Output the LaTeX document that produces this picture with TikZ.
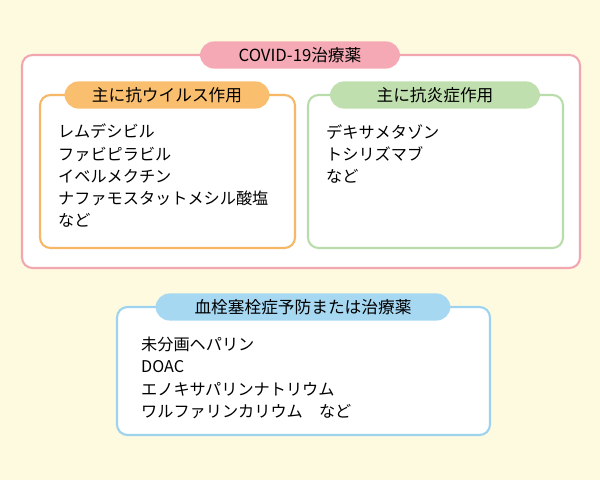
\documentclass[tikz,border=0pt]{standalone}
\usepackage{fontspec}
\setmainfont{Noto Sans CJK JP}
\usetikzlibrary{positioning}
\definecolor{bgyellow}{HTML}{FEFAE0}
\definecolor{pinkline}{HTML}{F2A7B0}
\definecolor{pinkfill}{HTML}{F5A9B4}
\definecolor{orangeline}{HTML}{F6B766}
\definecolor{orangefill}{HTML}{F9BE6E}
\definecolor{greenline}{HTML}{B9DDAA}
\definecolor{greenfill}{HTML}{BFE0AE}
\definecolor{blueline}{HTML}{9DD3EE}
\definecolor{bluefill}{HTML}{A6D8F2}
\tikzset{
  frame/.style={draw=#1, line width=1.2pt, fill=white, rounded corners=6pt},
  pill/.style={fill=#1, rounded corners=8pt, minimum height=0.5cm, font=\fontsize{9.5}{11}\selectfont},
  body/.style={anchor=north west, align=left, font=\fontsize{9.2}{12.6}\selectfont}
}
\begin{document}
\begin{tikzpicture}[x=0.02cm, y=-0.02cm]
        % Background
        \fill[bgyellow] (0,0) rectangle (600,480);
        \useasboundingbox (0,0) rectangle (600,480);

        % Outer COVID box
        \draw[frame=pinkline] (22,55) rectangle (580,268);
        \node[pill=pinkfill, minimum width=4cm] (covid) at (300,55) {COVID-19治療薬};

        % Antiviral box
        \draw[frame=orangeline] (40,95) rectangle (295,248);
        \node[pill=orangefill, minimum width=4.1cm] (antiviral) at (167,95) {主に抗ウイルス作用};
        \node[body] (antiviraltext) at (52,118) {レムデシビル\\ファビピラビル\\イベルメクチン\\ナファモスタットメシル酸塩\\など};

        % Anti-inflammatory box
        \draw[frame=greenline] (308,95) rectangle (563,248);
        \node[pill=greenfill, minimum width=4.2cm] (antiinfl) at (435,95) {主に抗炎症作用};
        \node[body] (antiinfltext) at (320,118) {デキサメタゾン\\トシリズマブ\\など};

        % Thrombosis box
        \draw[frame=blueline] (117,307) rectangle (490,435);
        \node[pill=bluefill, minimum width=5.9cm] (thrombo) at (303,307) {血栓塞栓症予防または治療薬};
        \node[body] (thrombotext) at (135,331) {未分画ヘパリン\\DOAC\\エノキサパリンナトリウム\\ワルファリンカリウム\quad など};
\end{tikzpicture}
\end{document}
